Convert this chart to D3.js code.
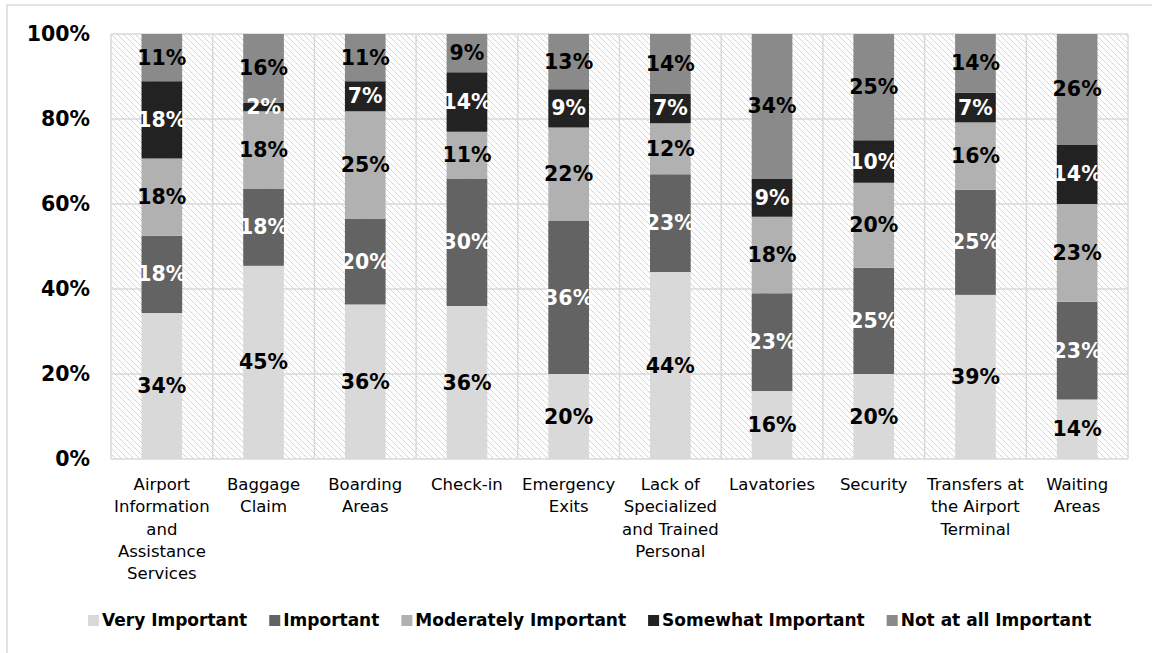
<!DOCTYPE html>
<html>
<head>
<meta charset="utf-8">
<script src="https://cdn.jsdelivr.net/npm/d3@7"></script>
<style>
  html, body { margin: 0; padding: 0; background: #ffffff; }
  svg { display: block; font-family: "DejaVu Sans", Verdana, sans-serif; }
</style>
</head>
<body>
<svg id="chart" width="1152" height="653"></svg>
<script>
// Airport service areas (line breaks mark how each axis label wraps)
const categories = [
  "Airport\nInformation\nand\nAssistance\nServices",
  "Baggage\nClaim",
  "Boarding\nAreas",
  "Check-in",
  "Emergency\nExits",
  "Lack of\nSpecialized\nand Trained\nPersonal",
  "Lavatories",
  "Security",
  "Transfers at\nthe Airport\nTerminal",
  "Waiting\nAreas"
];

const seriesNames = [
  "Very Important",
  "Important",
  "Moderately Important",
  "Somewhat Important",
  "Not at all Important"
];

// Share of respondents (%) per category, one array per rating
const veryImportant       = [34, 45, 36, 36, 20, 44, 16, 20, 39, 14];
const important           = [18, 18, 20, 30, 36, 23, 23, 25, 25, 23];
const moderatelyImportant = [18, 18, 25, 11, 22, 12, 18, 20, 16, 23];
const somewhatImportant   = [18,  2,  7, 14,  9,  7,  9, 10,  7, 14];
const notAtAllImportant   = [11, 16, 11,  9, 13, 14, 34, 25, 14, 26];

const yTicks = [0, 0.2, 0.4, 0.6, 0.8, 1.0];

const seriesValues = [veryImportant, important, moderatelyImportant, somewhatImportant, notAtAllImportant];
const fills      = ["#d9d9d9", "#636363", "#b1b1b1", "#222222", "#8a8a8a"];
const labelFills = ["#000000", "#ffffff", "#000000", "#ffffff", "#000000"];

const rows = categories.map((c, i) => {
  const r = { category: c };
  seriesNames.forEach((s, k) => { r[s] = seriesValues[k][i]; });
  return r;
});

const svg = d3.select("#chart");
const margin = { left: 111, right: 24, top: 34, bottom: 194 };
const W = 1152, H = 653;
const plotW = W - margin.left - margin.right;
const plotH = H - margin.top - margin.bottom;

// outer chart frame
svg.append("rect")
  .attr("x", 7).attr("y", 5).attr("width", 1170).attr("height", 670)
  .attr("fill", "none").attr("stroke", "#d9d9d9").attr("stroke-width", 1.5);

// diagonal hatch for the plot background
const defs = svg.append("defs");
const pat = defs.append("pattern")
  .attr("id", "hatch").attr("patternUnits", "userSpaceOnUse")
  .attr("width", 6).attr("height", 6);
pat.append("rect").attr("width", 6).attr("height", 6).attr("fill", "#ffffff");
pat.append("path")
  .attr("d", "M0,0 L6,6 M-1,5 L1,7 M5,-1 L7,1")
  .attr("stroke", "#d4d4d4").attr("stroke-width", 1);

const g = svg.append("g").attr("transform", `translate(${margin.left},${margin.top})`);

const x = d3.scaleBand().domain(categories).range([0, plotW]).paddingInner(0.6).paddingOuter(0.3);
const y = d3.scaleLinear().domain([0, 1]).range([plotH, 0]);
const step = x.step();

g.append("rect").attr("width", plotW).attr("height", plotH).attr("fill", "url(#hatch)");

// gridlines
const grid = g.append("g").attr("stroke", "#d9d9d9").attr("stroke-width", 1.5);
grid.selectAll("line.h").data(yTicks).join("line")
  .attr("x1", 0).attr("x2", plotW)
  .attr("y1", d => y(d)).attr("y2", d => y(d));
grid.selectAll("line.v").data(d3.range(categories.length + 1)).join("line")
  .attr("x1", i => i * step).attr("x2", i => i * step)
  .attr("y1", 0).attr("y2", plotH);

// stacked bars normalised to 100%
const stack = d3.stack().keys(seriesNames).offset(d3.stackOffsetExpand);
const layers = stack(rows);

const layerG = g.selectAll("g.layer").data(layers).join("g")
  .attr("class", "layer")
  .attr("fill", (d, k) => fills[k]);
layerG.selectAll("rect").data(d => d).join("rect")
  .attr("x", d => x(d.data.category))
  .attr("width", x.bandwidth())
  .attr("y", d => y(d[1]))
  .attr("height", d => y(d[0]) - y(d[1]));

// value labels centred in each segment
const labelG = g.selectAll("g.labels").data(layers).join("g")
  .attr("class", "labels")
  .attr("fill", (d, k) => labelFills[k]);
labelG.selectAll("text").data(d => d.map(p => ({ p, key: d.key }))).join("text")
  .attr("x", d => x(d.p.data.category) + x.bandwidth() / 2)
  .attr("y", d => (y(d.p[0]) + y(d.p[1])) / 2)
  .attr("text-anchor", "middle")
  .attr("dominant-baseline", "central")
  .attr("font-size", 20.5)
  .attr("font-weight", "bold")
  .text(d => d.p.data[d.key] + "%");

// y axis
const yAxis = g.append("g")
  .call(d3.axisLeft(y).tickValues(yTicks).tickFormat(d3.format(".0%")).tickSize(0).tickPadding(21));
yAxis.select(".domain").remove();
yAxis.selectAll("text")
  .attr("font-size", 20.5).attr("font-weight", "bold").attr("fill", "#000")
  .attr("font-family", "DejaVu Sans, Verdana, sans-serif");

// x axis labels, wrapped
const xAxis = g.append("g").attr("transform", `translate(0,${plotH})`)
  .call(d3.axisBottom(x).tickSize(0).tickFormat(""));
xAxis.select(".domain").remove();
xAxis.selectAll(".tick").each(function (c) {
  const lines = c.split("\n");
  const t = d3.select(this).append("text")
    .attr("text-anchor", "middle")
    .attr("fill", "#000")
    .attr("font-size", 16.5)
    .attr("font-family", "DejaVu Sans, Verdana, sans-serif");
  lines.forEach((ln, j) => {
    t.append("tspan").attr("x", 0).attr("y", 31 + j * 22.3).text(ln);
  });
});

// legend
const legend = svg.append("g").attr("transform", "translate(88,620)");
let lx = 0;
seriesNames.forEach((s, k) => {
  const item = legend.append("g").attr("transform", `translate(${lx},0)`);
  item.append("rect").attr("x", 0).attr("y", -5).attr("width", 11).attr("height", 11).attr("fill", fills[k]);
  const t = item.append("text").attr("x", 14).attr("y", 0)
    .attr("dominant-baseline", "central")
    .attr("font-size", 17).attr("font-weight", "bold").attr("fill", "#000")
    .text(s);
  lx += 14 + t.node().getComputedTextLength() + 22;
});
</script>
</body>
</html>
